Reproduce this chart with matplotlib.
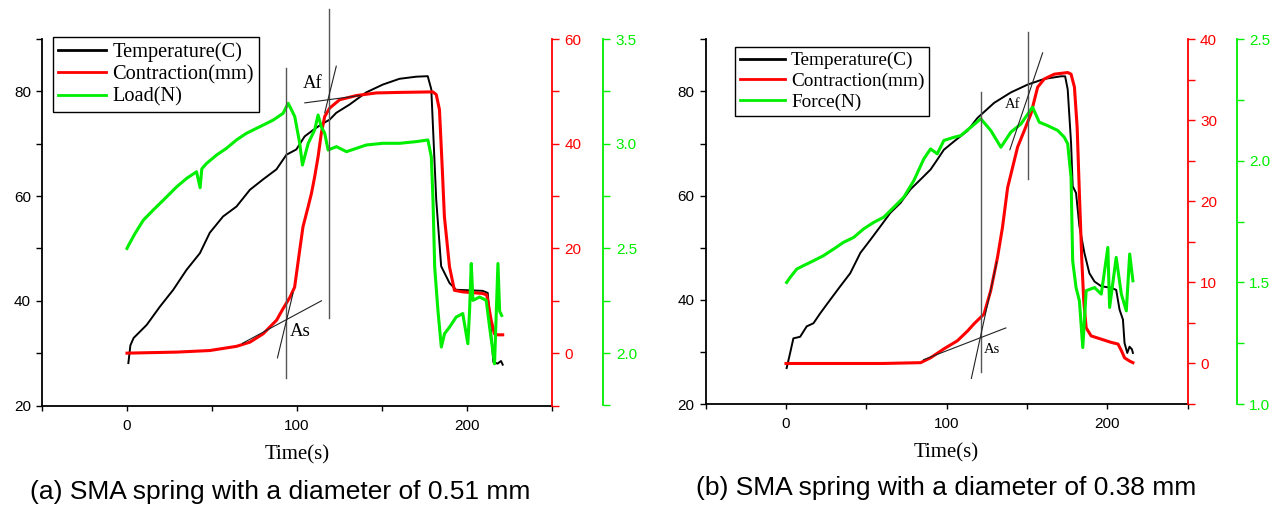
import matplotlib
matplotlib.use("Agg")
import matplotlib.pyplot as plt
from matplotlib.ticker import MultipleLocator, FormatStrFormatter
from matplotlib.lines import Line2D

W, H = 1281, 508
SANS = "Liberation Sans"
SERIF = "Liberation Serif"
RED = "#ff0000"
GREEN = "#00ee00"

# ---- panel (a): 0.51 mm spring ----
ta_temp = [0.8, 2.0, 3.9, 11.6, 19.4, 27.2, 35.0, 42.9, 48.7, 56.5,
           64.4, 72.3, 80.1, 87.9, 93.8, 99.6, 104.5, 109, 114.3, 119.2,
           123.1, 131, 140.7, 150.5, 160.3, 170.1, 176.9, 179, 181.9, 184.8,
           189.7, 193.6, 209.2, 212.2, 214.4, 215.5, 218, 220, 221]
temp_a = [28.1, 31.5, 32.9, 35.4, 38.9, 42.1, 45.9, 49.1, 53.0, 56.1,
          58.0, 61.2, 63.2, 65.1, 67.9, 68.9, 71.4, 72.5, 73.7, 74.6,
          75.9, 77.5, 79.8, 81.3, 82.4, 82.8, 82.9, 80.4, 59.3, 46.6,
          43.4, 42.1, 41.9, 41.5, 33, 28.3, 28.0, 28.5, 27.8]

ta_con = [0, 29.4, 48.7, 64.4, 72.3, 80.1, 88.0, 91.8, 95.9, 98.6,
          101.6, 103.5, 106.5, 108.5, 110.4, 112.4, 114.3, 116.3, 119.2, 125.1,
          134.9, 146.6, 160.3, 179.9, 181.9, 183.8, 185.4, 186.7, 189.7, 192.6,
          197.5, 209.2, 211.6, 214.2, 216.1, 218, 221]
con_a = [0, 0.2, 0.5, 1.3, 2.1, 3.7, 6.3, 8.5, 10.7, 12.6,
         19.7, 24.1, 27.9, 30.5, 33.7, 37.5, 42.0, 45.2, 46.8, 48.4,
         49.2, 49.7, 49.8, 49.9, 49.4, 46.5, 35.6, 26.1, 16.5, 12.0,
         11.7, 11.4, 11.1, 6.3, 3.7, 3.5, 3.5]

ta_load = [0, 0.9, 4.7, 9.6, 15.4, 21.3, 29.2, 35.0, 40.9, 43.0,
           44.0, 46.8, 52.7, 58.5, 64.4, 70.3, 78.1, 86.0, 91.8, 94.8,
           96.8, 98.7, 101.6, 103.2, 106.6, 110.4, 112.4, 114.3, 116.3, 118.3,
           123.2, 129.1, 140.8, 150.6, 160.4, 170.2, 177.0, 179.0, 180.0, 181.0,
           182.9, 184.9, 186.8, 189.7, 193.6, 197.5, 200.5, 201.5, 202.5, 203.5,
           207.4, 211.3, 213.3, 216.2, 218.2, 219.2, 220.4]
load_a = [2.50, 2.515, 2.571, 2.635, 2.683, 2.73, 2.794, 2.834, 2.866, 2.79,
          2.88, 2.906, 2.946, 2.978, 3.018, 3.05, 3.081, 3.113, 3.145, 3.193,
          3.161, 3.129, 3.002, 2.898, 3.002, 3.066, 3.137, 3.081, 3.05, 2.97,
          2.986, 2.962, 2.994, 3.002, 3.002, 3.01, 3.018, 2.938, 2.73, 2.41,
          2.204, 2.029, 2.093, 2.124, 2.172, 2.189, 2.045, 2.2, 2.428, 2.252,
          2.268, 2.252, 2.124, 1.949, 2.428, 2.2, 2.18]

# ---- panel (b): 0.38 mm spring ----
tb_temp = [0.4, 2.5, 4.6, 8.8, 12.9, 17.1, 21.3, 27.5, 33.8, 40.0,
           46.3, 52.5, 58.8, 65.0, 71.3, 77.5, 83.8, 90.0, 94.2, 98.3,
           104.6, 112.9, 119.2, 129.6, 140.0, 150.4, 160.8, 171.3, 173.8, 175.4,
           177.5, 178.5, 180.6, 182.7, 185.8, 188.9, 192.1, 196.3, 202.5, 205.6,
           207.7, 209.8, 210.8, 212.5, 213.9, 215.4, 216.0]
temp_b = [26.9, 29.7, 32.6, 32.9, 34.9, 35.5, 37.4, 40.0, 42.6, 45.1,
          49.0, 51.5, 54.1, 56.7, 58.6, 61.2, 63.1, 65.0, 66.9, 68.8,
          70.4, 72.4, 74.9, 77.8, 79.8, 81.3, 82.4, 82.9, 82.9, 80.4,
          70.1, 61.8, 60.5, 54.1, 49.0, 45.1, 43.5, 42.6, 42.3, 41.9,
          38.1, 36.2, 31.7, 29.8, 31.0, 30.5, 29.8]

tb_con = [0, 20, 40, 60, 83.8, 90.0, 98.3, 106.7, 113, 117.1,
          123.3, 127.5, 131.7, 134.8, 138.0, 141.1, 144.2, 148.3, 152.5, 156.7,
          160.8, 167.1, 175.4, 177.5, 179.6, 181.3, 182.7, 184.2, 185.4, 186.9,
          190.0, 196.3, 202.5, 206.7, 208.8, 210.8, 213.9, 216.0]
con_b = [0, 0, 0, 0, 0.1, 0.7, 1.8, 2.8, 4.0, 4.9,
         6.1, 9.0, 13.1, 16.8, 21.7, 24.2, 26.7, 28.7, 30.8, 34.1,
         35.1, 35.7, 35.9, 35.7, 34.1, 29.1, 20.9, 12.7, 7.7, 4.4,
         3.4, 3.0, 2.6, 2.4, 1.6, 0.7, 0.3, 0.1]

tb_force = [0.4, 2.5, 6.7, 10.8, 17.1, 23.3, 29.6, 35.8, 42.1, 48.3,
            54.6, 60.8, 67.1, 73.3, 79.6, 85.8, 90.0, 94.2, 98.3, 104.6,
            108.8, 115.0, 121.3, 127.5, 133.8, 140.0, 146.3, 153.5, 157.7, 162.9,
            169.2, 173.3, 175.4, 177.5, 178.5, 180.6, 182.7, 184.8, 186.9, 192.1,
            196.3, 200.4, 201.5, 205.6, 208.8, 211.9, 214.0, 216.0]
force_b = [1.50, 1.52, 1.555, 1.569, 1.589, 1.61, 1.637, 1.665, 1.685, 1.72,
           1.747, 1.768, 1.809, 1.85, 1.919, 2.008, 2.049, 2.029, 2.084, 2.097,
           2.104, 2.138, 2.173, 2.125, 2.056, 2.118, 2.152, 2.221, 2.159, 2.145,
           2.125, 2.097, 2.07, 1.932, 1.589, 1.479, 1.424, 1.232, 1.466, 1.479,
           1.452, 1.644, 1.397, 1.603, 1.452, 1.383, 1.617, 1.507]

# construction lines (time, temperature-axis units)
vlines_a = [(93.8, 25.3, 84.4), (118.6, 36.7, 95.7)]
tangents_a = [([104.6, 137.0], [77.8, 79.2]), ([116.3, 123.1], [75.9, 84.8]),
              ([68.0, 114.4], [31.9, 40.0]), ([88.5, 97.7], [29.1, 41.5])]
marks_a = [("Af", 109.4, 81.5), ("As", 101.7, 34.1)]

vlines_b = [(121.3, 26.2, 79.9), (150.4, 63.1, 91.4)]
tangents_b = [([139.4, 159.8], [68.8, 87.4]), ([85.6, 136.9], [28.5, 34.6]),
              ([115.4, 131.3], [24.9, 47.3])]
marks_b = [("Af", 141.0, 77.5), ("As", 128.5, 30.4)]


def px_rect(l, r, t, b):
    return [l / W, 1 - b / H, (r - l) / W, (b - t) / H]


def draw_panel(ax, t1, temp, t2, con, t3, load, con_lim, con_step, load_lim, load_step,
               green_pos, vlines, tangents, marks, mark_size, load_label, legend_px, legend_size):
    axr = ax.twinx()
    axg = ax.twinx()

    ax.plot(t1, temp, color="black", lw=1.4)
    axr.plot(t2, con, color=RED, lw=2.2)
    axg.plot(t3, load, color=GREEN, lw=2.2)

    ax.set_xlim(-50, 250)
    ax.set_ylim(20, 90)
    axr.set_ylim(*con_lim)
    axg.set_ylim(*load_lim)

    ax.xaxis.set_major_locator(MultipleLocator(100))
    ax.xaxis.set_minor_locator(MultipleLocator(50))
    ax.yaxis.set_major_locator(MultipleLocator(20))
    ax.yaxis.set_minor_locator(MultipleLocator(10))
    axr.yaxis.set_major_locator(MultipleLocator(con_step))
    axr.yaxis.set_minor_locator(MultipleLocator(con_step / 2))
    axg.yaxis.set_major_locator(MultipleLocator(load_step))
    axg.yaxis.set_minor_locator(MultipleLocator(load_step / 2))
    axg.yaxis.set_major_formatter(FormatStrFormatter("%.1f"))

    for a in (ax, axr, axg):
        for s in a.spines.values():
            s.set_visible(False)
    for s in ("left", "bottom"):
        ax.spines[s].set_visible(True)
        ax.spines[s].set_linewidth(1.3)
    axr.spines["right"].set_visible(True)
    axr.spines["right"].set_color(RED)
    axr.spines["right"].set_linewidth(1.3)
    axg.spines["right"].set_visible(True)
    axg.spines["right"].set_position(("axes", green_pos))
    axg.spines["right"].set_color(GREEN)
    axg.spines["right"].set_linewidth(1.3)

    ax.tick_params(axis="x", which="both", direction="out", length=3.5, width=1,
                   labelsize=11, pad=6)
    ax.tick_params(axis="y", which="both", direction="out", length=4, width=1,
                   labelsize=11, pad=4)
    axr.tick_params(axis="y", which="both", direction="out", length=5, width=1,
                    colors=RED, labelsize=11, pad=4)
    axg.tick_params(axis="y", which="both", direction="out", length=5, width=1,
                    colors=GREEN, labelsize=11, pad=4)
    for a in (ax, axr, axg):
        for lab in a.get_xticklabels() + a.get_yticklabels():
            lab.set_family(SANS)

    ax.set_xlabel("Time(s)", family=SERIF, fontsize=15, labelpad=9)

    # construction lines drawn on top of every curve
    for x, y0, y1 in vlines:
        axg.plot([x, x], [y0, y1], color="#555555", lw=1.0, transform=ax.transData,
                 clip_on=False)
    for xs, ys in tangents:
        axg.plot(xs, ys, color="#222222", lw=0.8, transform=ax.transData, clip_on=False)
    for txt, x, y in marks:
        axg.text(x, y, txt, transform=ax.transData, family=SERIF, fontsize=mark_size,
                 ha="center", va="center")

    handles = [Line2D([], [], color="black", lw=2),
               Line2D([], [], color=RED, lw=2),
               Line2D([], [], color=GREEN, lw=2)]
    leg = axg.legend(handles, ["Temperature(C)", "Contraction(mm)", load_label],
                     loc="upper left", bbox_to_anchor=(legend_px[0] / W, 1 - legend_px[1] / H),
                     bbox_transform=ax.figure.transFigure, borderaxespad=0,
                     prop={"family": SERIF, "size": legend_size}, fancybox=False,
                     framealpha=1, edgecolor="black", handlelength=2.35,
                     handletextpad=0.3, labelspacing=0.16, borderpad=0.25)
    leg.get_frame().set_linewidth(1.0)
    return axr, axg


fig = plt.figure(figsize=(W / 100, H / 100), dpi=100)

ax_a = fig.add_axes(px_rect(42, 552, 39, 405.5))
draw_panel(ax_a, ta_temp, temp_a, ta_con, con_a, ta_load, load_a,
           (-10, 60), 20, (1.75, 3.5), 0.5, 1.1006,
           vlines_a, tangents_a, marks_a, 13.5, "Load(N)", (53, 37), 14.7)

ax_b = fig.add_axes(px_rect(705.7, 1187.5, 39.3, 404))
draw_panel(ax_b, tb_temp, temp_b, tb_con, con_b, tb_force, force_b,
           (-5, 40), 10, (1.0, 2.5), 0.5, 1.102,
           vlines_b, tangents_b, marks_b, 10.5, "Force(N)", (735, 47), 13.9)

fig.text(280 / W, 1 - 492 / H, "(a) SMA spring with a diameter of 0.51 mm",
         family=SANS, fontsize=19, ha="center", va="center")
fig.text(946 / W, 1 - 488 / H, "(b) SMA spring with a diameter of 0.38 mm",
         family=SANS, fontsize=19, ha="center", va="center")

fig.savefig("out.png", dpi=100)
